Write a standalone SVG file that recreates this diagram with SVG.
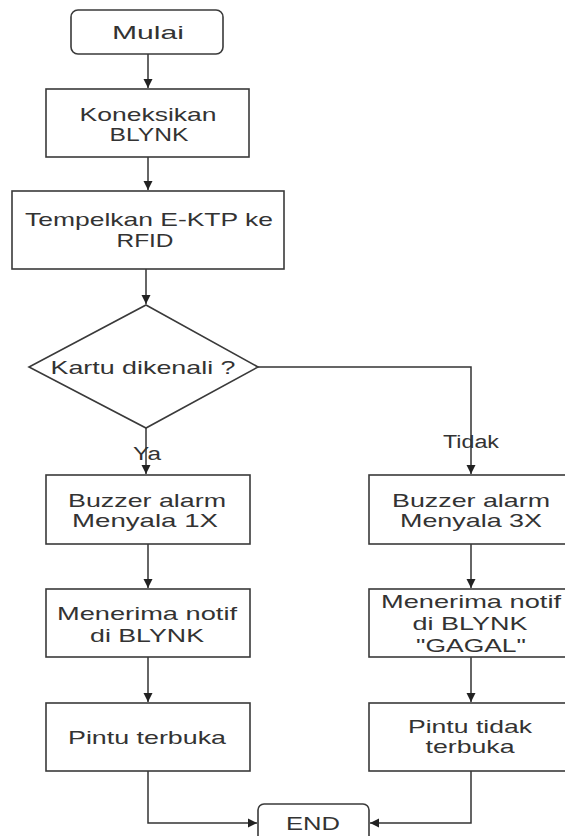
<svg xmlns="http://www.w3.org/2000/svg" width="565" height="836" viewBox="0 0 565 836">
<style>
.box{fill:#fff;stroke:#3a3a3a;stroke-width:1.6}
.t{font-family:"Liberation Sans",Arial,sans-serif;font-size:19px;fill:#333;text-anchor:middle}
.lbl{font-family:"Liberation Sans",Arial,sans-serif;font-size:18px;fill:#333;text-anchor:middle}
.c{fill:none;stroke:#333;stroke-width:1.5}
</style>
<defs>
<marker id="ah" markerUnits="userSpaceOnUse" markerWidth="10" markerHeight="10" refX="9" refY="5" orient="auto">
<path d="M0,0.5 L9,5 L0,9.5 z" fill="#222"/>
</marker>
</defs>
<rect width="565" height="836" fill="#fff"/>
<g id="connectors">
<path class="c" d="M148,54 V88" marker-end="url(#ah)"/>
<path class="c" d="M148,157 V190" marker-end="url(#ah)"/>
<path class="c" d="M146,269 V304" marker-end="url(#ah)"/>
<path class="c" d="M146,428 V474" marker-end="url(#ah)"/>
<path class="c" d="M258,367 H471 V474" marker-end="url(#ah)"/>
<path class="c" d="M148,544 V588" marker-end="url(#ah)"/>
<path class="c" d="M148,657 V702" marker-end="url(#ah)"/>
<path class="c" d="M148,771 V823 H257" marker-end="url(#ah)"/>
<path class="c" d="M471,544 V588" marker-end="url(#ah)"/>
<path class="c" d="M471,657 V702" marker-end="url(#ah)"/>
<path class="c" d="M471,771 V823 H370" marker-end="url(#ah)"/>
<text class="lbl" x="147" y="460" textLength="28" lengthAdjust="spacingAndGlyphs">Ya</text>
<text class="lbl" x="471" y="448" textLength="56" lengthAdjust="spacingAndGlyphs">Tidak</text>
</g>
<g id="mulai">
<rect class="box" x="71" y="10" width="152" height="44" rx="7"/>
<text class="t" x="148" y="39" textLength="72" lengthAdjust="spacingAndGlyphs">Mulai</text>
</g>
<g id="koneksi">
<rect class="box" x="46" y="89" width="203" height="68"/>
<text class="t" x="148" y="121" textLength="137" lengthAdjust="spacingAndGlyphs">Koneksikan</text>
<text class="t" x="149" y="141" textLength="79" lengthAdjust="spacingAndGlyphs">BLYNK</text>
</g>
<g id="tempel">
<rect class="box" x="12" y="191" width="272" height="78"/>
<text class="t" x="149" y="226" textLength="248" lengthAdjust="spacingAndGlyphs">Tempelkan E-KTP ke</text>
<text class="t" x="145" y="247" textLength="57" lengthAdjust="spacingAndGlyphs">RFID</text>
</g>
<g id="decision">
<polygon class="box" points="146,305 258,367 146,428 29,367"/>
<text class="t" x="143" y="374" textLength="185" lengthAdjust="spacingAndGlyphs">Kartu dikenali ?</text>
</g>
<g id="buzzer1">
<rect class="box" x="46" y="475" width="204" height="69"/>
<text class="t" x="147" y="507" textLength="158" lengthAdjust="spacingAndGlyphs">Buzzer alarm</text>
<text class="t" x="145" y="527" textLength="146" lengthAdjust="spacingAndGlyphs">Menyala 1X</text>
</g>
<g id="notif1">
<rect class="box" x="46" y="589" width="204" height="68"/>
<text class="t" x="147" y="620" textLength="180" lengthAdjust="spacingAndGlyphs">Menerima notif</text>
<text class="t" x="147" y="642" textLength="114" lengthAdjust="spacingAndGlyphs">di BLYNK</text>
</g>
<g id="pintu1">
<rect class="box" x="46" y="703" width="204" height="68"/>
<text class="t" x="147" y="744" textLength="158" lengthAdjust="spacingAndGlyphs">Pintu terbuka</text>
</g>
<g id="buzzer3">
<rect class="box" x="369" y="475" width="204" height="69"/>
<text class="t" x="471" y="507" textLength="158" lengthAdjust="spacingAndGlyphs">Buzzer alarm</text>
<text class="t" x="471" y="527" textLength="142" lengthAdjust="spacingAndGlyphs">Menyala 3X</text>
</g>
<g id="notif2">
<rect class="box" x="369" y="589" width="204" height="68"/>
<text class="t" x="471" y="608" textLength="180" lengthAdjust="spacingAndGlyphs">Menerima notif</text>
<text class="t" x="470" y="630" textLength="115" lengthAdjust="spacingAndGlyphs">di BLYNK</text>
<text class="t" x="471" y="652" textLength="110" lengthAdjust="spacingAndGlyphs">"GAGAL"</text>
</g>
<g id="pintu2">
<rect class="box" x="369" y="703" width="204" height="68"/>
<text class="t" x="470" y="733" textLength="124" lengthAdjust="spacingAndGlyphs">Pintu tidak</text>
<text class="t" x="470" y="753" textLength="89" lengthAdjust="spacingAndGlyphs">terbuka</text>
</g>
<g id="end">
<rect class="box" x="258" y="804" width="111" height="50" rx="6"/>
<text class="t" x="313" y="830" textLength="54" lengthAdjust="spacingAndGlyphs">END</text>
</g>
</svg>
